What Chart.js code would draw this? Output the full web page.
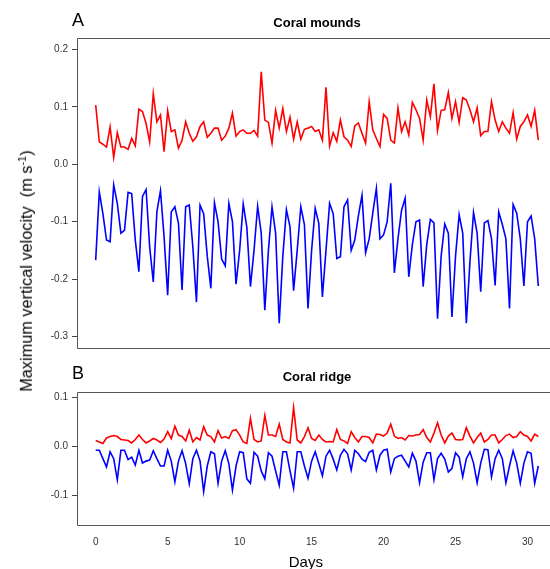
<!DOCTYPE html>
<html><head><meta charset="utf-8">
<script src="https://cdn.jsdelivr.net/npm/chart.js@4.4.1/dist/chart.umd.min.js"></script>
<style>
html,body{margin:0;padding:0;background:#fff;overflow:hidden;width:550px;height:569px;}
#wrap{position:relative;width:550px;height:569px;overflow:hidden;font-family:"Liberation Sans",Arial,sans-serif;color:#000;}
canvas{position:absolute;left:0;}
.t{position:absolute;line-height:1;white-space:nowrap;}
</style></head><body>
<div id="wrap">
<canvas id="cA" width="562" height="360" style="top:0px"></canvas>
<canvas id="cB" width="562" height="209" style="top:360px"></canvas>
<div class="t" style="left:72px;top:10.7px;font-size:18px">A</div>
<div class="t" style="left:72px;top:364.4px;font-size:18px">B</div>
<div class="t" style="left:317px;top:15.7px;font-size:13px;font-weight:bold;transform:translateX(-50%)">Coral mounds</div>
<div class="t" style="left:317px;top:370px;font-size:13px;font-weight:bold;transform:translateX(-50%)">Coral ridge</div>
<div class="t" style="left:305.8px;top:554px;font-size:15px;transform:translateX(-50%)">Days</div>
<div class="t" style="left:25.9px;top:271px;font-size:16.3px;transform:translate(-50%,-50%) rotate(-90deg)">Maximum vertical velocity&nbsp; (m s<span style="font-size:11px;vertical-align:6px;line-height:0">-1</span>)</div>
</div>
<script>
// Time (days)
const days = [0,0.25,0.5,0.75,1,1.25,1.5,1.75,2,2.25,2.5,2.75,3,3.25,3.5,3.75,4,4.25,4.5,4.75,
5,5.25,5.5,5.75,6,6.25,6.5,6.75,7,7.25,7.5,7.75,8,8.25,8.5,8.75,9,9.25,9.5,9.75,
10,10.25,10.5,10.75,11,11.25,11.5,11.75,12,12.25,12.5,12.75,13,13.25,13.5,13.75,14,14.25,14.5,14.75,
15,15.25,15.5,15.75,16,16.25,16.5,16.75,17,17.25,17.5,17.75,18,18.25,18.5,18.75,19,19.25,19.5,19.75,
20,20.25,20.5,20.75,21,21.25,21.5,21.75,22,22.25,22.5,22.75,23,23.25,23.5,23.75,24,24.25,24.5,24.75,
25,25.25,25.5,25.75,26,26.25,26.5,26.75,27,27.25,27.5,27.75,28,28.25,28.5,28.75,29,29.25,29.5,29.75,
30,30.25,30.5,30.75];

// Panel A: Coral mounds
const moundsUp = [0.103,0.039,0.035,0.030,0.065,0.012,0.055,0.030,0.030,0.026,0.045,0.032,
0.096,0.092,0.071,0.039,0.123,0.074,0.086,0.022,
0.093,0.057,0.060,0.028,0.042,0.074,0.054,0.040,
0.048,0.066,0.074,0.047,0.054,0.063,0.063,0.042,
0.049,0.063,0.089,0.049,0.057,0.060,0.054,0.054,
0.059,0.049,0.161,0.077,0.073,0.037,0.094,0.063,
0.097,0.057,0.082,0.044,0.074,0.044,0.061,0.063,
0.066,0.057,0.060,0.042,0.134,0.032,0.055,0.040,
0.077,0.048,0.042,0.031,0.067,0.072,0.054,0.037,
0.109,0.060,0.045,0.031,0.087,0.080,0.042,0.037,
0.098,0.057,0.074,0.051,0.108,0.095,0.080,0.042,
0.112,0.083,0.140,0.059,0.094,0.095,0.125,0.080,
0.109,0.073,0.116,0.112,0.095,0.074,0.098,0.050,
0.057,0.057,0.109,0.077,0.057,0.074,0.063,0.054,
0.090,0.044,0.066,0.074,0.086,0.066,0.094,0.042];

const moundsDown = [-0.167,-0.048,-0.086,-0.132,-0.135,-0.036,-0.068,-0.120,-0.115,-0.049,-0.051,-0.132,
-0.187,-0.056,-0.044,-0.144,-0.205,-0.083,-0.046,-0.126,
-0.228,-0.083,-0.074,-0.103,-0.219,-0.074,-0.071,-0.144,
-0.240,-0.071,-0.086,-0.160,-0.216,-0.067,-0.100,-0.165,
-0.177,-0.068,-0.100,-0.209,-0.150,-0.069,-0.110,-0.213,
-0.150,-0.073,-0.120,-0.254,-0.150,-0.074,-0.120,-0.277,
-0.160,-0.079,-0.109,-0.220,-0.150,-0.074,-0.105,-0.251,
-0.150,-0.077,-0.103,-0.231,-0.150,-0.068,-0.086,-0.164,
-0.161,-0.074,-0.062,-0.150,-0.132,-0.090,-0.054,-0.154,
-0.130,-0.085,-0.042,-0.130,-0.123,-0.100,-0.033,-0.189,
-0.130,-0.080,-0.059,-0.196,-0.140,-0.100,-0.097,-0.213,
-0.140,-0.096,-0.102,-0.269,-0.160,-0.104,-0.120,-0.266,
-0.160,-0.088,-0.120,-0.277,-0.170,-0.084,-0.120,-0.222,
-0.102,-0.098,-0.130,-0.211,-0.083,-0.105,-0.130,-0.251,
-0.070,-0.085,-0.130,-0.212,-0.100,-0.090,-0.130,-0.212];

// Panel B: Coral ridge
const ridgeUp = [0.012,0.009,0.006,0.017,0.020,0.022,0.020,0.014,0.013,0.012,0.007,0.014,
0.023,0.014,0.007,0.011,0.016,0.013,0.008,0.015,
0.030,0.016,0.041,0.023,0.020,0.011,0.033,0.009,
0.018,0.013,0.040,0.023,0.020,0.009,0.032,0.017,
0.020,0.016,0.032,0.034,0.023,0.009,0.006,0.057,
0.014,0.009,0.011,0.063,0.023,0.023,0.020,0.045,
0.014,0.009,0.007,0.079,0.013,0.007,0.020,0.038,
0.016,0.012,0.023,0.014,0.009,0.010,0.009,0.034,
0.014,0.011,0.006,0.030,0.018,0.009,0.020,0.020,
0.018,0.007,0.025,0.024,0.021,0.027,0.045,0.021,
0.016,0.018,0.013,0.022,0.021,0.023,0.024,0.034,
0.018,0.009,0.027,0.048,0.023,0.007,0.021,0.027,
0.014,0.013,0.014,0.038,0.021,0.007,0.018,0.027,
0.009,0.014,0.023,0.023,0.007,0.014,0.022,0.025,
0.018,0.020,0.030,0.023,0.020,0.011,0.025,0.020];

const ridgeDown = [-0.008,-0.008,-0.025,-0.042,-0.011,-0.025,-0.068,-0.008,-0.008,-0.027,-0.022,-0.038,
-0.008,-0.034,-0.030,-0.028,-0.009,-0.025,-0.040,-0.040,
-0.008,-0.030,-0.072,-0.030,-0.009,-0.035,-0.076,-0.025,
-0.008,-0.030,-0.092,-0.040,-0.011,-0.015,-0.075,-0.030,
-0.009,-0.035,-0.089,-0.040,-0.011,-0.013,-0.066,-0.075,
-0.012,-0.020,-0.050,-0.066,-0.013,-0.020,-0.050,-0.079,
-0.011,-0.011,-0.050,-0.085,-0.011,-0.011,-0.040,-0.065,
-0.030,-0.011,-0.035,-0.060,-0.020,-0.008,-0.026,-0.048,
-0.018,-0.006,-0.015,-0.048,-0.008,-0.015,-0.026,-0.031,
-0.012,-0.008,-0.048,-0.018,-0.008,-0.006,-0.052,-0.025,
-0.020,-0.018,-0.030,-0.042,-0.014,-0.030,-0.074,-0.032,
-0.013,-0.013,-0.068,-0.025,-0.014,-0.026,-0.052,-0.045,
-0.013,-0.022,-0.062,-0.025,-0.011,-0.034,-0.074,-0.034,
-0.006,-0.007,-0.062,-0.025,-0.008,-0.025,-0.074,-0.040,
-0.009,-0.034,-0.075,-0.034,-0.011,-0.014,-0.075,-0.040];

// Tick labels
const dayTicks = [0,5,10,15,20,25,30];
const yTicksA = [-0.3,-0.2,-0.1,0.0,0.1,0.2];
const yTicksB = [-0.1,0.0,0.1];

const FONT = '"Liberation Sans", Arial, sans-serif';
const pts = arr => arr.map((v,i)=>({x:days[i], y:v}));

// Plot frame: left, top and bottom sides (right side lies beyond the page edge)
const boxPlugin = {
  id:'box',
  afterDraw(chart){
    const {ctx, chartArea:a, width} = chart;
    const l = Math.round(a.left)-0.5, t = Math.round(a.top)+0.5, b = Math.round(a.bottom)+0.5;
    ctx.save();
    ctx.strokeStyle = '#555';
    ctx.lineWidth = 1;
    ctx.beginPath();
    ctx.moveTo(width, t); ctx.lineTo(l, t); ctx.lineTo(l, b); ctx.lineTo(width, b);
    ctx.stroke();
    ctx.restore();
  }
};

function yScale(min, max, ticks){
  return {
    type:'linear', min, max, position:'left',
    afterFit(s){ s.width = 78; },
    afterBuildTicks(s){ s.ticks = ticks.map(v=>({value:v})); },
    grid:{display:true, drawOnChartArea:false, drawTicks:true, tickLength:6, tickColor:'#444', tickWidth:1},
    border:{display:false},
    ticks:{padding:4, color:'#333', font:{family:FONT, size:10}, callback:v=>Number(v).toFixed(1)}
  };
}

function ds(data, color){
  return {data:pts(data), borderColor:color, backgroundColor:color, borderWidth:1.6,
          pointRadius:0, tension:0, fill:false};
}

const common = {
  responsive:false, animation:false, devicePixelRatio:1,
  plugins:{legend:{display:false}, tooltip:{enabled:false}, title:{display:false}},
};

new Chart(document.getElementById('cA'), {
  type:'line',
  data:{datasets:[ds(moundsUp,'#ff0000'), ds(moundsDown,'#0000ff')]},
  options:Object.assign({}, common, {
    layout:{padding:{top:38, bottom:12, left:0, right:6}},
    scales:{
      x:{type:'linear', min:-1.23, max:31.98, display:false},
      y:yScale(-0.32, 0.22, yTicksA)
    }
  }),
  plugins:[boxPlugin]
});

new Chart(document.getElementById('cB'), {
  type:'line',
  data:{datasets:[ds(ridgeUp,'#ff0000'), ds(ridgeDown,'#0000ff')]},
  options:Object.assign({}, common, {
    layout:{padding:{top:32.3, bottom:14, left:0, right:6}},
    scales:{
      x:{type:'linear', min:-1.23, max:31.98, position:'bottom',
         afterFit(s){ s.height = 30; },
         afterBuildTicks(s){ s.ticks = dayTicks.map(v=>({value:v})); },
         grid:{display:false, drawTicks:false},
         border:{display:false},
         ticks:{padding:11, color:'#333', font:{family:FONT, size:10}, maxRotation:0, autoSkip:false,
                callback:v=>String(v)}
      },
      y:yScale(-0.16, 0.11, yTicksB)
    }
  }),
  plugins:[boxPlugin]
});
</script>
</body></html>
